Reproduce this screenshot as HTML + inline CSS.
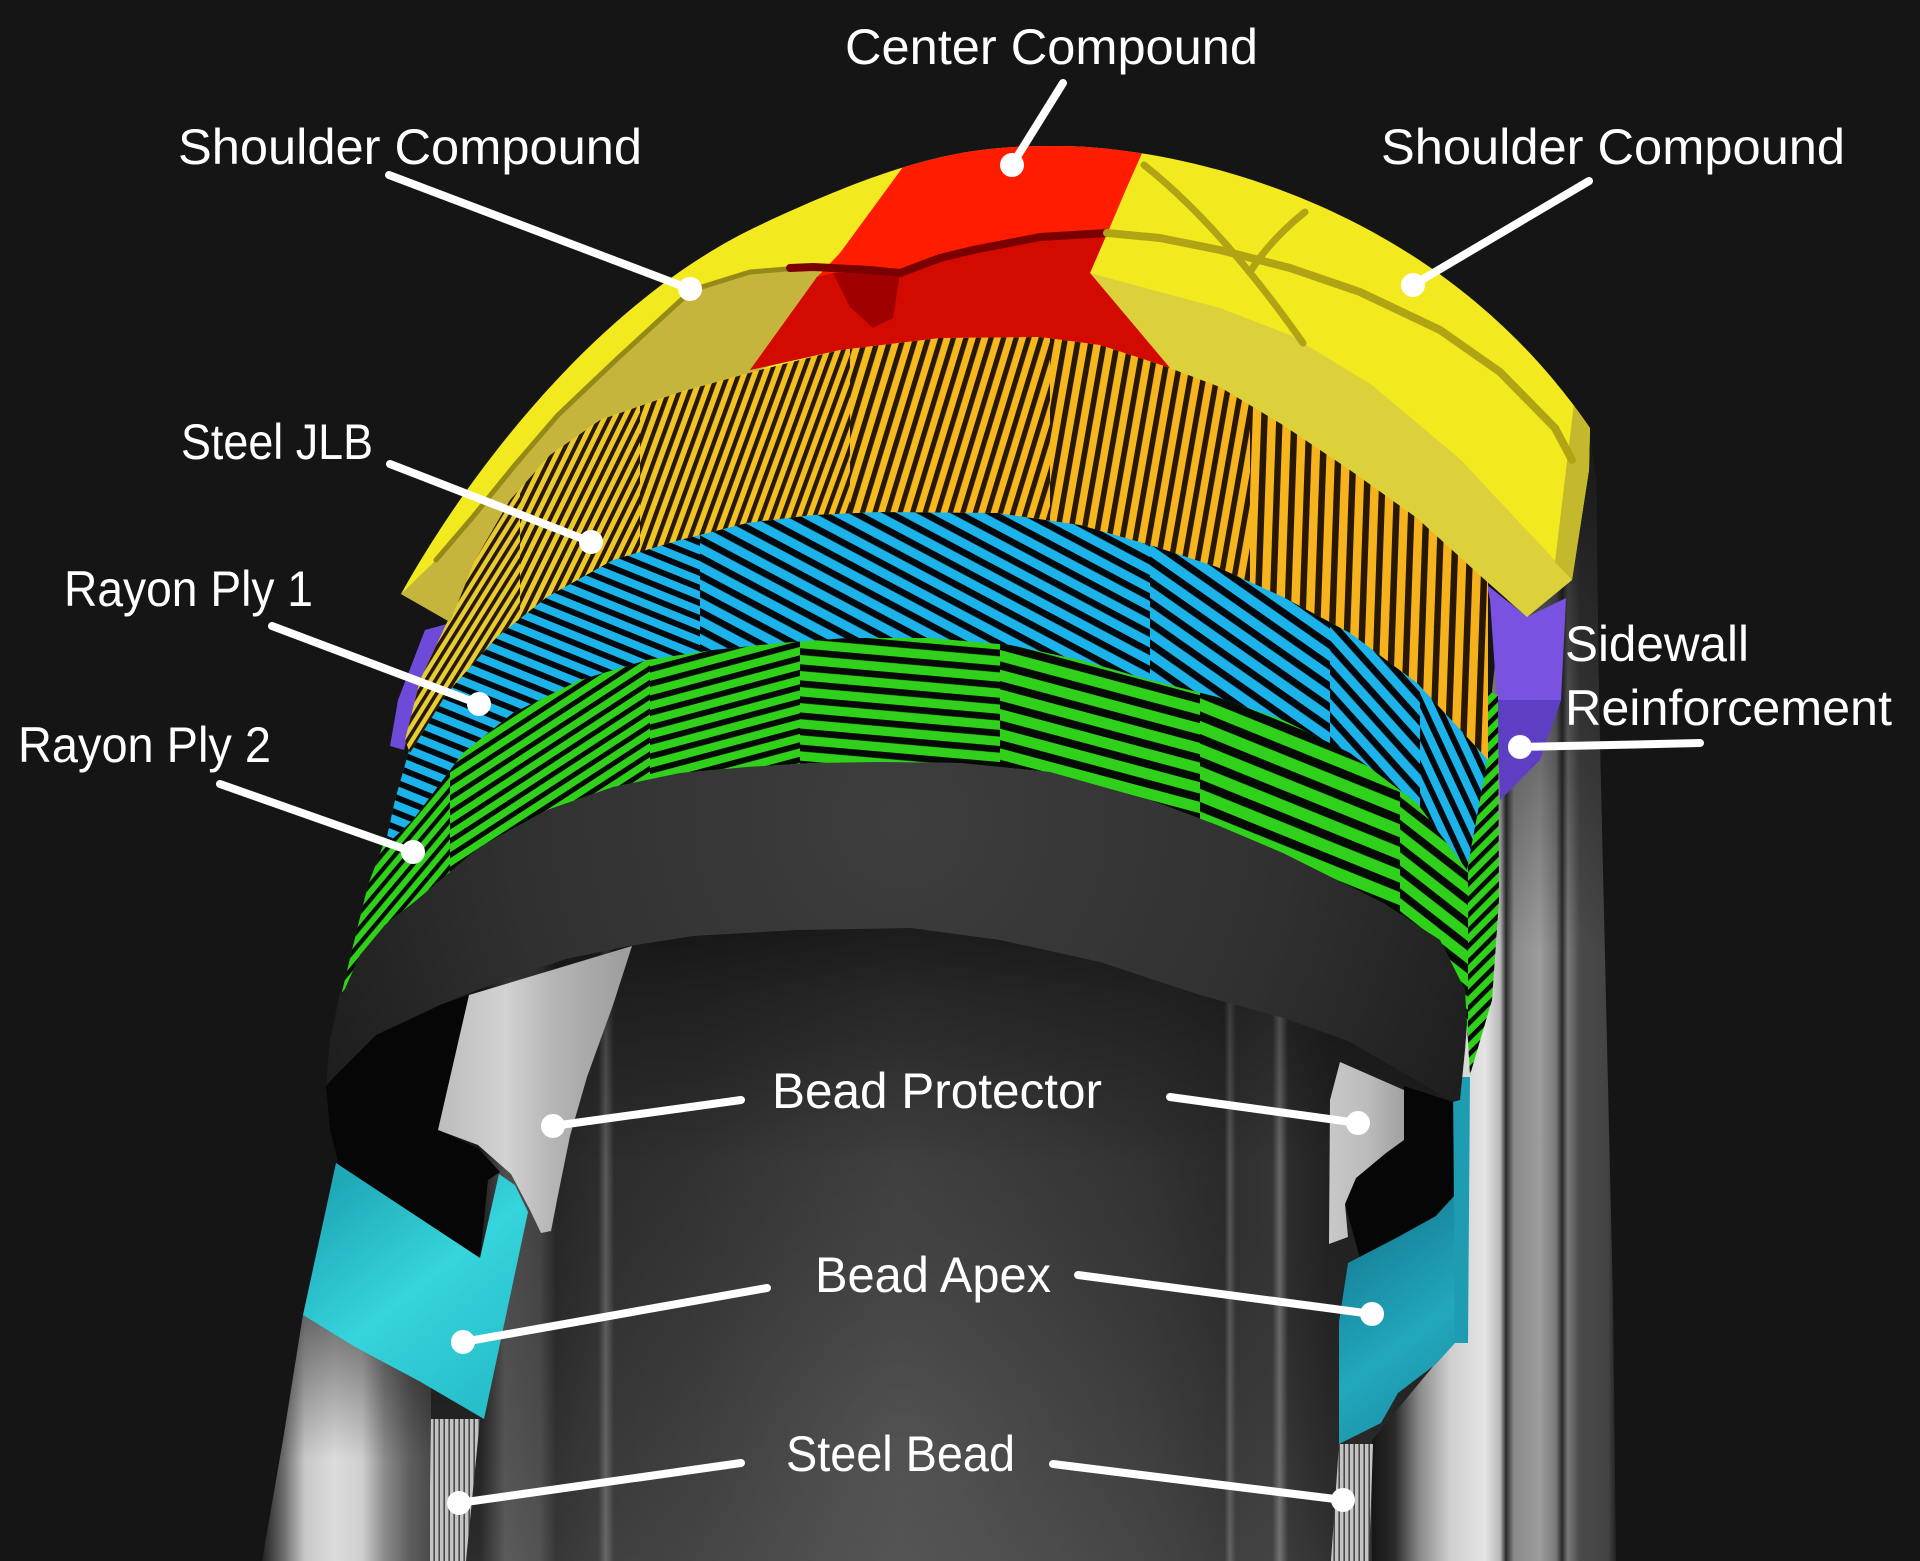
<!DOCTYPE html>
<html>
<head>
<meta charset="utf-8">
<style>
html,body{margin:0;padding:0;background:#151515;}
svg{display:block;}
text{font-family:"Liberation Sans",Arial,sans-serif;fill:#ffffff;font-size:50px;}
</style>
</head>
<body>
<svg xmlns="http://www.w3.org/2000/svg" width="1920" height="1561" viewBox="0 0 1920 1561">
<defs>
  <linearGradient id="gInt" gradientUnits="userSpaceOnUse" x1="430" y1="0" x2="1470" y2="0">
    <stop offset="0" stop-color="#1c1c1c"/>
    <stop offset="0.048" stop-color="#1c1c1c"/>
    <stop offset="0.072" stop-color="#4e4e4e"/>
    <stop offset="0.106" stop-color="#444444"/>
    <stop offset="0.121" stop-color="#262626"/>
    <stop offset="0.162" stop-color="#2c2c2c"/>
    <stop offset="0.169" stop-color="#5a5a5a"/>
    <stop offset="0.177" stop-color="#2c2c2c"/>
    <stop offset="0.26" stop-color="#2e2e2e"/>
    <stop offset="0.452" stop-color="#393939"/>
    <stop offset="0.692" stop-color="#303030"/>
    <stop offset="0.764" stop-color="#2a2a2a"/>
    <stop offset="0.769" stop-color="#555555"/>
    <stop offset="0.775" stop-color="#303030"/>
    <stop offset="0.81" stop-color="#343434"/>
    <stop offset="0.817" stop-color="#686868"/>
    <stop offset="0.825" stop-color="#2c2c2c"/>
    <stop offset="0.865" stop-color="#222222"/>
    <stop offset="1" stop-color="#1e1e1e"/>
  </linearGradient>
  <linearGradient id="gIntV" gradientUnits="userSpaceOnUse" x1="0" y1="900" x2="0" y2="1561">
    <stop offset="0" stop-color="#000" stop-opacity="0.6"/>
    <stop offset="0.15" stop-color="#000" stop-opacity="0.3"/>
    <stop offset="0.4" stop-color="#000" stop-opacity="0"/>
    <stop offset="1" stop-color="#fff" stop-opacity="0.07"/>
  </linearGradient>
  <radialGradient id="gIntR" gradientUnits="userSpaceOnUse" cx="900" cy="1450" r="420">
    <stop offset="0" stop-color="#fff" stop-opacity="0.10"/>
    <stop offset="1" stop-color="#fff" stop-opacity="0"/>
  </radialGradient>
  <linearGradient id="gSW" gradientUnits="userSpaceOnUse" x1="1372" y1="0" x2="1616" y2="0">
    <stop offset="0" stop-color="#161616"/>
    <stop offset="0.094" stop-color="#2a2a2a"/>
    <stop offset="0.197" stop-color="#8c8c8c"/>
    <stop offset="0.32" stop-color="#cfcfcf"/>
    <stop offset="0.463" stop-color="#e4e4e4"/>
    <stop offset="0.525" stop-color="#b8b8b8"/>
    <stop offset="0.549" stop-color="#2a2a2a"/>
    <stop offset="0.582" stop-color="#8a8a8a"/>
    <stop offset="0.689" stop-color="#9c9c9c"/>
    <stop offset="0.754" stop-color="#7a7a7a"/>
    <stop offset="0.779" stop-color="#2a2a2a"/>
    <stop offset="0.803" stop-color="#7a7a7a"/>
    <stop offset="0.852" stop-color="#4a4a4a"/>
    <stop offset="0.967" stop-color="#444444"/>
    <stop offset="1" stop-color="#222222"/>
  </linearGradient>
  <linearGradient id="gSWV" gradientUnits="userSpaceOnUse" x1="0" y1="430" x2="0" y2="950">
    <stop offset="0" stop-color="#101010" stop-opacity="0.85"/>
    <stop offset="0.55" stop-color="#101010" stop-opacity="0.4"/>
    <stop offset="1" stop-color="#101010" stop-opacity="0"/>
  </linearGradient>
  <linearGradient id="gLS" gradientUnits="userSpaceOnUse" x1="262" y1="0" x2="431" y2="0">
    <stop offset="0" stop-color="#222222"/>
    <stop offset="0.124" stop-color="#6a6a6a"/>
    <stop offset="0.254" stop-color="#c8c8c8"/>
    <stop offset="0.43" stop-color="#dcdcdc"/>
    <stop offset="0.59" stop-color="#cfcfcf"/>
    <stop offset="0.728" stop-color="#8a8a8a"/>
    <stop offset="0.876" stop-color="#5e5e5e"/>
    <stop offset="1" stop-color="#4a4a4a"/>
  </linearGradient>
  <linearGradient id="gLSV" gradientUnits="userSpaceOnUse" x1="0" y1="1315" x2="0" y2="1460">
    <stop offset="0" stop-color="#000" stop-opacity="0.5"/>
    <stop offset="1" stop-color="#000" stop-opacity="0"/>
  </linearGradient>
  <pattern id="pBead" patternUnits="userSpaceOnUse" width="5" height="10">
    <rect width="5" height="10" fill="#c4c4c4"/>
    <rect x="3.4" width="1.6" height="10" fill="#4a4a4a"/>
  </pattern>
  <linearGradient id="gProt" gradientUnits="userSpaceOnUse" x1="438" y1="0" x2="632" y2="0">
    <stop offset="0" stop-color="#bcbcbc"/>
    <stop offset="0.35" stop-color="#d2d2d2"/>
    <stop offset="0.6" stop-color="#b4b4b4"/>
    <stop offset="1" stop-color="#9c9c9c"/>
  </linearGradient>
  <linearGradient id="gProtR" gradientUnits="userSpaceOnUse" x1="1329" y1="0" x2="1404" y2="0">
    <stop offset="0" stop-color="#c8c8c8"/>
    <stop offset="0.5" stop-color="#bcbcbc"/>
    <stop offset="1" stop-color="#a0a0a0"/>
  </linearGradient>
  <linearGradient id="gCyL" gradientUnits="userSpaceOnUse" x1="320" y1="1200" x2="480" y2="1400">
    <stop offset="0" stop-color="#1fa9b8"/>
    <stop offset="0.5" stop-color="#36d4dc"/>
    <stop offset="1" stop-color="#27bfca"/>
  </linearGradient>
  <linearGradient id="gCyR" gradientUnits="userSpaceOnUse" x1="1340" y1="1240" x2="1460" y2="1400">
    <stop offset="0" stop-color="#157e96"/>
    <stop offset="0.6" stop-color="#22a8bc"/>
    <stop offset="1" stop-color="#1c92a8"/>
  </linearGradient>
  <radialGradient id="gRing" gradientUnits="userSpaceOnUse" cx="900" cy="820" r="650">
    <stop offset="0" stop-color="#3e3e3e"/>
    <stop offset="0.6" stop-color="#303030"/>
    <stop offset="1" stop-color="#1c1c1c"/>
  </radialGradient>
  <linearGradient id="gO" gradientUnits="userSpaceOnUse" x1="410" y1="0" x2="1488" y2="0">
    <stop offset="0" stop-color="#e4d035"/>
    <stop offset="0.25" stop-color="#f0c424"/>
    <stop offset="0.5" stop-color="#f7b81f"/>
    <stop offset="1" stop-color="#f5b11c"/>
  </linearGradient>

  <!-- orange stripes -->
  <pattern id="pO1" patternUnits="userSpaceOnUse" width="8" height="8" patternTransform="rotate(-58)"><rect width="8" height="3.6" fill="#281800"/></pattern>
  <pattern id="pO2" patternUnits="userSpaceOnUse" width="9" height="9" patternTransform="rotate(-64)"><rect width="9" height="4" fill="#281800"/></pattern>
  <pattern id="pO3" patternUnits="userSpaceOnUse" width="10" height="10" patternTransform="rotate(-70)"><rect width="10" height="4.4" fill="#281800"/></pattern>
  <pattern id="pO4" patternUnits="userSpaceOnUse" width="12" height="12" patternTransform="rotate(-73)"><rect width="12" height="5.2" fill="#281800"/></pattern>
  <pattern id="pO5" patternUnits="userSpaceOnUse" width="13" height="13" patternTransform="rotate(-80)"><rect width="13" height="5.6" fill="#281800"/></pattern>
  <pattern id="pO6" patternUnits="userSpaceOnUse" width="15" height="15" patternTransform="rotate(-88)"><rect width="15" height="6.5" fill="#281800"/></pattern>

  <!-- blue stripes -->
  <pattern id="pB1" patternUnits="userSpaceOnUse" width="14" height="14" patternTransform="rotate(22)"><rect width="14" height="6" fill="#03080c"/></pattern>
  <pattern id="pB2" patternUnits="userSpaceOnUse" width="16" height="16" patternTransform="rotate(28)"><rect width="16" height="6.8" fill="#03080c"/></pattern>
  <pattern id="pB3" patternUnits="userSpaceOnUse" width="17" height="17" patternTransform="rotate(35)"><rect width="17" height="7.2" fill="#03080c"/></pattern>
  <pattern id="pB4" patternUnits="userSpaceOnUse" width="16" height="16" patternTransform="rotate(48)"><rect width="16" height="6.8" fill="#03080c"/></pattern>
  <pattern id="pB5" patternUnits="userSpaceOnUse" width="14" height="14" patternTransform="rotate(65)"><rect width="14" height="6" fill="#03080c"/></pattern>

  <!-- green stripes -->
  <pattern id="pG1" patternUnits="userSpaceOnUse" width="10" height="10" patternTransform="rotate(-50)"><rect width="10" height="4.2" fill="#050a04"/></pattern>
  <pattern id="pG2" patternUnits="userSpaceOnUse" width="12" height="12" patternTransform="rotate(-33)"><rect width="12" height="5" fill="#050a04"/></pattern>
  <pattern id="pG3" patternUnits="userSpaceOnUse" width="14" height="14" patternTransform="rotate(-15)"><rect width="14" height="5.9" fill="#050a04"/></pattern>
  <pattern id="pG4" patternUnits="userSpaceOnUse" width="16" height="16" patternTransform="rotate(5)"><rect width="16" height="6.7" fill="#050a04"/></pattern>
  <pattern id="pG5" patternUnits="userSpaceOnUse" width="19" height="19" patternTransform="rotate(15)"><rect width="19" height="8" fill="#050a04"/></pattern>
  <pattern id="pG6" patternUnits="userSpaceOnUse" width="21" height="21" patternTransform="rotate(22)"><rect width="21" height="8.8" fill="#050a04"/></pattern>
  <pattern id="pG7" patternUnits="userSpaceOnUse" width="18" height="18" patternTransform="rotate(38)"><rect width="18" height="7.6" fill="#050a04"/></pattern>
  <pattern id="pG8" patternUnits="userSpaceOnUse" width="11" height="11" patternTransform="rotate(-45)"><rect width="11" height="4.6" fill="#050a04"/></pattern>

  <path id="shGreen" d="M385,840 L413,814 L463,747 L513,707 L580,674 L647,654 L713,644 L780,637 L847,632 L930,632 L1010,639 L1080,654 L1150,674 L1217,691 L1283,714 L1350,747 L1417,797 L1460,855 L1475,790 L1483,690 L1498,695 L1499,900 L1492,1000 L1470,1075 L1465,990 L1440,940 L1383,903 L1283,853 L1217,825 L1150,800 L1050,772 L960,763 L880,762 L813,763 L747,767 L680,773 L613,787 L547,810 L480,847 L413,903 L385,925 L360,955 L340,1000 L352,950 L368,885 Z"/>
  <path id="shBlue" d="M410,747 L447,687 L497,631 L547,591 L613,554 L680,534 L747,517 L813,509 L880,506 L997,507 L1080,519 L1150,539 L1217,561 L1283,591 L1350,627 L1417,677 L1467,731 L1488,755 L1480,800 L1467,870 L1417,803 L1350,753 L1283,720 L1217,697 L1150,680 L1080,660 L1010,645 L930,638 L847,638 L780,643 L713,650 L647,660 L580,680 L513,713 L463,753 L413,820 L385,846 L395,800 Z"/>
  <path id="shOrange" d="M450,616 L475,554 L510,494 L550,449 L600,414 L680,386 L760,364 L840,344 L940,332 L1040,331 L1100,339 L1140,352 L1170,362 L1220,381 L1283,419 L1350,464 L1417,512 L1483,572 L1488,580 L1488,760 L1467,737 L1417,683 L1350,633 L1283,597 L1217,567 L1150,545 L1080,525 L997,513 L880,512 L813,515 L747,523 L680,540 L613,560 L547,597 L497,637 L447,693 L410,753 L405,740 L420,680 Z"/>
  <path id="shTread" d="M401,594 C470,470 600,300 760,225 S980,146 1060,146 C1140,146 1420,180 1590,428 L1589,470 L1572,580 L1527,617 L1483,578 L1417,518 L1350,470 L1283,425 L1220,387 L1170,368 L1140,358 L1100,345 L1040,337 L940,338 L840,350 L760,370 L680,392 L600,420 L550,455 L510,500 L475,560 L450,622 Z"/>
  <clipPath id="cGreen"><use href="#shGreen"/></clipPath>
  <clipPath id="cBlue"><use href="#shBlue"/></clipPath>
  <clipPath id="cOrange"><use href="#shOrange"/></clipPath>
  <clipPath id="cTread"><use href="#shTread"/></clipPath>
  <path id="shSW" d="M1560,430 L1588,430 L1596,480 L1599,700 L1606,1000 L1613,1300 L1616,1561 L1372,1561 L1372,1440 L1455,1340 L1462,1000 L1480,800 L1500,620 Z"/>
</defs>

<rect width="1920" height="1561" fill="#151515"/>

<!-- interior -->
<rect x="430" y="900" width="1040" height="661" fill="url(#gInt)"/>
<rect x="430" y="900" width="1040" height="661" fill="url(#gIntV)"/>
<rect x="430" y="900" width="1040" height="661" fill="url(#gIntR)"/>

<!-- right sidewall -->
<use href="#shSW" fill="url(#gSW)"/>
<use href="#shSW" fill="url(#gSWV)"/>

<!-- left lower silver -->
<path d="M303,1315 L355,1347 L419,1381 L431,1388 L431,1561 L262,1561 L283,1440 Z" fill="url(#gLS)"/>
<path d="M303,1315 L355,1347 L419,1381 L431,1388 L431,1561 L262,1561 L283,1440 Z" fill="url(#gLSV)"/>

<!-- steel beads -->
<path d="M431,1419 L480,1419 L466,1561 L429,1561 Z" fill="url(#pBead)"/>
<path d="M1339,1444 L1373,1444 L1369,1561 L1331,1561 Z" fill="url(#pBead)"/>

<!-- black lips -->
<path d="M326,1086 L334,1077 L376,1035 L440,1005 L469,995 L438,1130 L478,1148 L500,1172 L488,1180 L480,1258 L339,1166 L330,1130 Z" fill="#060606"/>
<path d="M1404,1086 L1453,1102 L1455,1195 L1419,1233 L1360,1258 L1345,1204 L1356,1178 L1386,1153 L1404,1140 Z" fill="#060606"/>

<!-- bead apex (cyan) -->
<path d="M336,1163 L480,1258 L499,1174 L515,1185 L528,1212 L484,1419 L419,1381 L355,1347 L303,1315 Z" fill="url(#gCyL)"/>
<path d="M1348,1263 L1398,1237 L1436,1216 L1455,1195 L1455,1343 L1436,1364 L1398,1393 L1381,1423 L1339,1444 L1339,1322 Z" fill="url(#gCyR)"/>
<path d="M1453,1077 L1470,1077 L1468,1343 L1455,1343 Z" fill="#1e9cb2"/>

<!-- bead protectors -->
<path d="M469,995 L632,946 L613,1005 L587,1077 L570,1136 L558,1195 L551,1231 L541,1233 L530,1210 L511,1174 L478,1145 L438,1130 Z" fill="url(#gProt)"/>
<path d="M1340,1062 L1404,1090 L1404,1140 L1386,1153 L1356,1178 L1345,1204 L1348,1237 L1329,1244 L1330,1100 Z" fill="url(#gProtR)"/>

<!-- inner liner ring -->
<path d="M340,994 L360,949 L385,919 L413,897 L480,841 L547,804 L613,781 L680,767 L747,761 L813,757 L880,756 L960,757 L1050,766 L1150,794 L1217,819 L1283,847 L1383,897 L1440,934 L1470,984 L1465,1050 L1460,1100 L1453,1102 L1411,1077 L1348,1041 L1284,1018 L1200,995 L1100,962 L1000,940 L911,928 L798,930 L693,936 L629,946 L566,959 L503,980 L440,1005 L376,1035 L334,1077 L326,1086 L330,1040 Z" fill="url(#gRing)"/>

<!-- sidewall reinforcement (purple) -->
<path d="M1487,585 L1527,617 L1566,598 L1561,700 L1540,760 L1500,800 L1497,700 L1490,600 Z" fill="#7a52e2"/>
<path d="M1497,700 L1561,700 L1540,760 L1500,800 Z" fill="#5e3fc4"/>
<path d="M425,630 L447,624 L420,685 L404,750 L390,746 L398,700 Z" fill="#6d4ad8"/>

<!-- green ply -->
<use href="#shGreen" fill="#30d11a"/>
<g clip-path="url(#cGreen)">
  <rect x="330" y="620" width="120" height="480" fill="url(#pG1)"/>
  <rect x="450" y="620" width="200" height="480" fill="url(#pG2)"/>
  <rect x="650" y="620" width="150" height="480" fill="url(#pG3)"/>
  <rect x="800" y="620" width="200" height="480" fill="url(#pG4)"/>
  <rect x="1000" y="620" width="200" height="480" fill="url(#pG5)"/>
  <rect x="1200" y="620" width="200" height="480" fill="url(#pG6)"/>
  <rect x="1400" y="620" width="68" height="480" fill="url(#pG7)"/>
  <rect x="1468" y="620" width="40" height="480" fill="url(#pG8)"/>
</g>

<!-- blue ply -->
<use href="#shBlue" fill="#1bb3ea"/>
<g clip-path="url(#cBlue)">
  <rect x="370" y="490" width="330" height="400" fill="url(#pB1)"/>
  <rect x="700" y="490" width="450" height="400" fill="url(#pB2)"/>
  <rect x="1150" y="490" width="180" height="400" fill="url(#pB3)"/>
  <rect x="1330" y="490" width="90" height="400" fill="url(#pB4)"/>
  <rect x="1420" y="490" width="80" height="400" fill="url(#pB5)"/>
</g>

<!-- orange JLB -->
<use href="#shOrange" fill="url(#gO)"/>
<g clip-path="url(#cOrange)">
  <rect x="380" y="320" width="140" height="470" fill="url(#pO1)"/>
  <rect x="520" y="320" width="120" height="470" fill="url(#pO2)"/>
  <rect x="640" y="320" width="210" height="470" fill="url(#pO3)"/>
  <rect x="850" y="320" width="200" height="470" fill="url(#pO4)"/>
  <rect x="1050" y="320" width="200" height="470" fill="url(#pO5)"/>
  <rect x="1250" y="320" width="250" height="470" fill="url(#pO6)"/>
</g>

<!-- tread -->
<use href="#shTread" fill="#f2ea1e"/>
<g clip-path="url(#cTread)">
  <!-- left olive front face -->
  <path d="M401,594 L436,560 L472,518 L515,465 L558,415 L618,358 L692,290 L750,272 L820,268 L820,345 L760,370 L680,392 L600,420 L550,455 L510,500 L475,560 L450,622 Z" fill="#c5b53c"/>
  <!-- right front face -->
  <path d="M1090,273 L1160,292 L1220,308 L1290,335 L1372,385 L1461,460 L1550,555 L1572,580 L1527,617 L1483,578 L1417,518 L1350,470 L1283,425 L1220,387 L1170,368 Z" fill="#dcd13a"/>
  <path d="M1575,395 L1596,428 L1596,470 L1572,580 L1555,562 L1566,470 Z" fill="#c4b82c"/>
  <!-- red center -->
  <path d="M952,100 L1166,100 L1143,151 L1127,187 L1110,227 L1090,273 L1170,368 L1140,358 L1100,345 L1040,337 L940,338 L840,350 L750,370 L817,277 L840,253 Z" fill="#ff1c00"/>
  <path d="M750,370 L817,277 L833,273 L870,270 L900,273 L940,258 L973,250 L1040,237 L1107,233 L1090,273 L1170,368 L1140,358 L1100,345 L1040,337 L940,338 L840,350 Z" fill="#d20a00"/>
  <path d="M833,273 L900,273 L893,318 L873,328 L850,307 Z" fill="#a00000"/>
  <!-- grooves -->
  <g fill="none" stroke-linecap="round" stroke-linejoin="round">
    <path d="M436,560 L472,518 L515,465 L558,415 L618,358 L692,290 L750,272 L800,268" stroke="#958a18" stroke-width="5"/>
    <path d="M790,268 L813,267 L870,270 L900,273 L940,258 L973,250 L1040,237 L1107,233" stroke="#7a0000" stroke-width="8"/>
    <path d="M1107,233 L1160,238 L1220,250 L1290,268 L1360,292 L1440,330 L1500,372 L1555,428 L1572,460" stroke="#b0a414" stroke-width="8"/>
    <path d="M1144,165 Q1220,225 1303,343" stroke="#b0a414" stroke-width="7"/>
    <path d="M1305,212 Q1270,240 1250,272" stroke="#b0a414" stroke-width="7"/>
  </g>
</g>

<!-- leader lines -->
<g stroke="#ffffff" stroke-width="8" stroke-linecap="round" fill="none">
  <line x1="1063" y1="83" x2="1012" y2="165"/>
  <line x1="389" y1="175" x2="690" y2="289"/>
  <line x1="1589" y1="181" x2="1413" y2="285"/>
  <line x1="390" y1="464" x2="591" y2="542"/>
  <line x1="272" y1="626" x2="479" y2="704"/>
  <line x1="220" y1="784" x2="413" y2="852"/>
  <line x1="1700" y1="743" x2="1520" y2="747"/>
  <line x1="741" y1="1100" x2="553" y2="1126"/>
  <line x1="1170" y1="1097" x2="1358" y2="1123"/>
  <line x1="767" y1="1288" x2="463" y2="1342"/>
  <line x1="1078" y1="1275" x2="1372" y2="1314"/>
  <line x1="741" y1="1463" x2="459" y2="1503"/>
  <line x1="1053" y1="1464" x2="1343" y2="1500"/>
</g>
<g fill="#ffffff">
  <circle cx="1012" cy="165" r="12"/>
  <circle cx="690" cy="289" r="12"/>
  <circle cx="1413" cy="285" r="12"/>
  <circle cx="591" cy="542" r="12"/>
  <circle cx="479" cy="704" r="12"/>
  <circle cx="413" cy="852" r="12"/>
  <circle cx="1520" cy="747" r="12"/>
  <circle cx="553" cy="1126" r="12"/>
  <circle cx="1358" cy="1123" r="12"/>
  <circle cx="463" cy="1342" r="12"/>
  <circle cx="1372" cy="1314" r="12"/>
  <circle cx="459" cy="1503" r="12"/>
  <circle cx="1343" cy="1500" r="12"/>
</g>

<!-- labels -->
<text x="845" y="64" textLength="413" lengthAdjust="spacingAndGlyphs">Center Compound</text>
<text x="178" y="164" textLength="464" lengthAdjust="spacingAndGlyphs">Shoulder Compound</text>
<text x="1381" y="164" textLength="464" lengthAdjust="spacingAndGlyphs">Shoulder Compound</text>
<text x="181" y="459" textLength="192" lengthAdjust="spacingAndGlyphs">Steel JLB</text>
<text x="64" y="606" textLength="249" lengthAdjust="spacingAndGlyphs">Rayon Ply 1</text>
<text x="18" y="762" textLength="253" lengthAdjust="spacingAndGlyphs">Rayon Ply 2</text>
<text x="1565" y="661" textLength="184" lengthAdjust="spacingAndGlyphs">Sidewall</text>
<text x="1565" y="725" textLength="327" lengthAdjust="spacingAndGlyphs">Reinforcement</text>
<text x="772" y="1108" textLength="330" lengthAdjust="spacingAndGlyphs">Bead Protector</text>
<text x="815" y="1292" textLength="236" lengthAdjust="spacingAndGlyphs">Bead Apex</text>
<text x="786" y="1471" textLength="229" lengthAdjust="spacingAndGlyphs">Steel Bead</text>
</svg>
</body>
</html>
